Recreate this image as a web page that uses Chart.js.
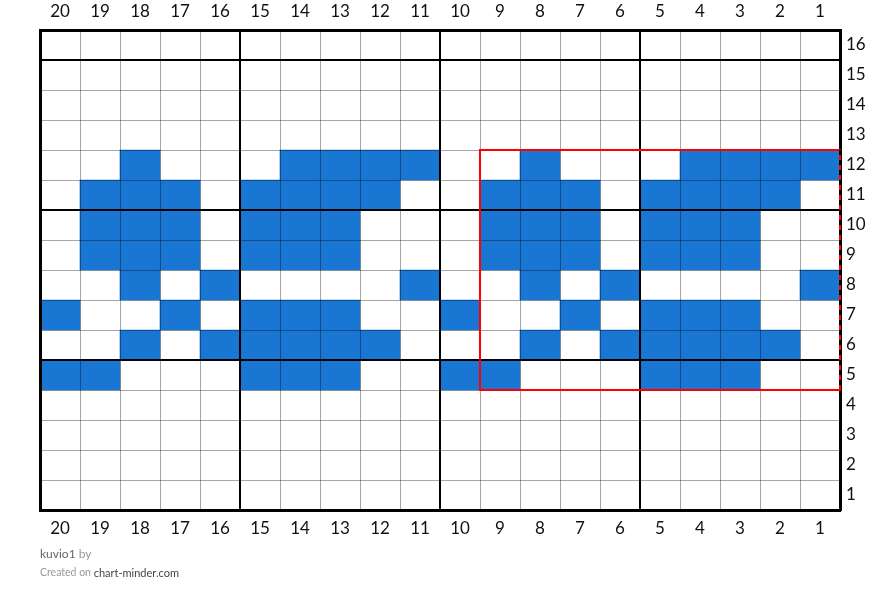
<!DOCTYPE html>
<html>
<head>
<meta charset="utf-8">
<script src="https://cdn.jsdelivr.net/npm/chart.js@4"></script>
<style>
  body { margin: 0; background: #fff; }
  #wrap { width: 880px; height: 603px; }
</style>
</head>
<body>
<div id="wrap"><canvas id="knit-chart"></canvas></div>
<script>
// columns read right to left, rows bottom to top
const columns = [20, 19, 18, 17, 16, 15, 14, 13, 12, 11, 10, 9, 8, 7, 6, 5, 4, 3, 2, 1];
const rows = [1, 2, 3, 4, 5, 6, 7, 8, 9, 10, 11, 12, 13, 14, 15, 16];

// filled (blue) stitches per row
const row5 = [20, 19, 15, 14, 13, 10, 9, 5, 4, 3];
const row6 = [18, 16, 15, 14, 13, 12, 8, 6, 5, 4, 3, 2];
const row7 = [20, 17, 15, 14, 13, 10, 7, 5, 4, 3];
const row8 = [18, 16, 11, 8, 6, 1];
const row9 = [19, 18, 17, 15, 14, 13, 9, 8, 7, 5, 4, 3];
const row10 = [19, 18, 17, 15, 14, 13, 9, 8, 7, 5, 4, 3];
const row11 = [19, 18, 17, 15, 14, 13, 12, 9, 8, 7, 5, 4, 3, 2];
const row12 = [18, 14, 13, 12, 11, 8, 4, 3, 2, 1];

const filledRows = { 5: row5, 6: row6, 7: row7, 8: row8, 9: row9, 10: row10, 11: row11, 12: row12 };

// red repeat box: columns 9..1, rows 12..5
const boxCols = [9, 1];
const boxRows = [12, 5];

const stitchColor = '#1976d2';
const fontFamily = 'Lato, "Open Sans", sans-serif';

const datasets = Object.keys(filledRows).map(r => {
    const row = Number(r);
    return {
        label: 'Row ' + row,
        data: columns.map(c => filledRows[r].includes(c) ? [row - 1, row] : null),
        backgroundColor: stitchColor,
        borderWidth: 0,
        grouped: false,
        barPercentage: 1,
        categoryPercentage: 1
    };
});

const repeatBox = {
    id: 'repeatBox',
    afterDraw(chart) {
        const x = chart.scales.x;
        const y = chart.scales.y;
        const half = (x.getPixelForValue(1) - x.getPixelForValue(0)) / 2;
        const left = x.getPixelForValue(columns.indexOf(boxCols[0])) - half;
        const right = x.getPixelForValue(columns.indexOf(boxCols[1])) + half;
        const top = y.getPixelForValue(boxRows[0]);
        const bottom = y.getPixelForValue(boxRows[1] - 1);
        const c = chart.ctx;
        c.save();
        c.strokeStyle = '#ff0000';
        c.lineWidth = 2;
        c.strokeRect(left, top, right - left, bottom - top);
        // chart border drawn dashed over the right edge
        c.strokeStyle = '#000';
        c.setLineDash([5, 5]);
        c.beginPath();
        c.moveTo(right, top);
        c.lineTo(right, bottom);
        c.stroke();
        c.restore();
    }
};

const footer = {
    id: 'footer',
    afterDraw(chart) {
        const c = chart.ctx;
        const left = chart.chartArea.left;
        c.save();
        c.textBaseline = 'middle';
        c.font = '12px ' + fontFamily;
        c.fillStyle = '#666';
        c.fillText('kuvio1', left, 554);
        let w = c.measureText('kuvio1 ').width;
        c.fillStyle = '#999';
        c.fillText('by', left + w, 554);
        c.font = '10.5px ' + fontFamily;
        c.fillStyle = '#999';
        c.fillText('Created on', left, 573);
        w = c.measureText('Created on ').width;
        c.font = '11px ' + fontFamily;
        c.fillStyle = '#444';
        c.fillText('chart-minder.com', left + w, 573);
        c.restore();
    }
};

const thin = 'rgba(0, 0, 0, 0.35)';
const tickFont = { family: fontFamily, size: 17 };

const ctx = document.getElementById('knit-chart');
new Chart(ctx, {
    type: 'bar',
    data: {
        labels: columns.map(String),
        datasets: datasets
    },
    options: {
        responsive: true,
        maintainAspectRatio: false,
        animation: false,
        layout: { padding: 0 },
        plugins: {
            legend: { display: false },
            tooltip: { enabled: false },
            title: { display: false }
        },
        scales: {
            x: {
                type: 'category',
                position: 'bottom',
                grid: {
                    offset: true,
                    z: 1,
                    drawTicks: false,
                    color: c => (c.index === undefined || c.index % 5 === 0) ? '#000' : thin,
                    lineWidth: c => (c.index === undefined || c.index % 5 === 0) ? 2 : 1
                },
                border: { display: true, color: '#000', width: 3, z: 2 },
                ticks: { color: '#111', font: tickFont, padding: 8, maxRotation: 0, autoSkip: false },
                afterFit: s => { s.height = 93; }
            },
            xTop: {
                type: 'category',
                position: 'top',
                labels: columns.map(String),
                offset: true,
                grid: { display: false, drawTicks: false },
                border: { display: true, color: '#000', width: 3, z: 2 },
                ticks: { color: '#111', font: tickFont, padding: 8, maxRotation: 0, autoSkip: false },
                afterFit: s => { s.height = 30; }
            },
            y: {
                type: 'linear',
                position: 'left',
                min: 0,
                max: rows.length,
                grid: {
                    z: 1,
                    drawTicks: false,
                    color: c => (c.tick.value % 5 === 0 || c.tick.value === rows.length) ? '#000' : thin,
                    lineWidth: c => (c.tick.value % 5 === 0 || c.tick.value === rows.length) ? 2 : 1
                },
                border: { display: true, color: '#000', width: 3, z: 2 },
                ticks: { stepSize: 1, display: false },
                afterFit: s => { s.width = 40; }
            },
            yRight: {
                type: 'category',
                position: 'right',
                labels: rows.map(String),
                reverse: true,
                offset: true,
                grid: { display: false, drawTicks: false },
                border: { display: true, color: '#000', width: 3, z: 2 },
                ticks: { color: '#111', font: tickFont, padding: 6, autoSkip: false },
                afterFit: s => { s.width = 40; }
            }
        }
    },
    plugins: [repeatBox, footer]
});
</script>
</body>
</html>
